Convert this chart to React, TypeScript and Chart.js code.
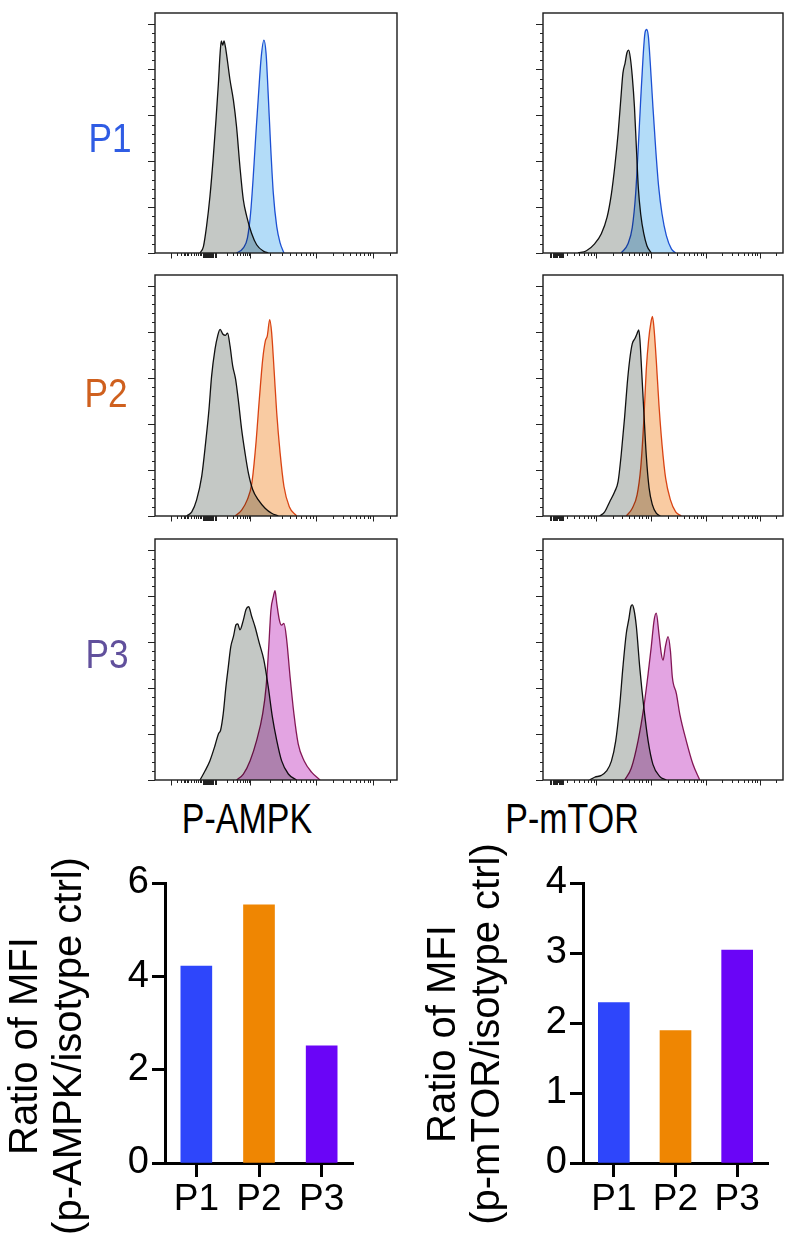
import React, { useEffect, useRef } from 'react';
import { Chart, registerables } from 'chart.js';

Chart.register(...registerables);

const FONT = "'Liberation Sans', Arial, Helvetica, sans-serif";

// ---------- Flow histograms: [display channel (0-1000), scaled count (major tick = 100)] ----------
const ampkP1Iso = [[186,0],[200,14],[213,58],[227,123],[241,210],[252,290],[262,370],[269,435],[274,462],[280,453],[285,462],[291,449],[299,420],[310,377],[324,333],[337,275],[351,188],[365,116],[379,80],[399,43],[420,18],[448,4],[468,0]];
const ampkP1Stain = [[337,0],[365,11],[382,33],[395,87],[406,167],[417,261],[428,348],[439,428],[450,464],[459,435],[467,355],[478,232],[489,130],[503,58],[517,22],[533,0]];

const mtorP1Iso = [[146,0],[181,5],[215,20],[243,42],[267,78],[285,129],[299,188],[313,261],[324,334],[333,392],[342,414],[350,437],[357,442],[364,425],[372,385],[381,319],[389,231],[397,144],[407,85],[420,42],[433,16],[451,0]];
const mtorP1Stain = [[326,0],[354,20],[372,56],[386,129],[397,231],[407,334],[417,428],[425,480],[432,487],[439,472],[447,414],[458,319],[470,224],[482,144],[496,85],[514,38],[535,9],[553,0]];

const ampkP2Iso = [[131,0],[152,9],[172,35],[193,86],[209,158],[223,231],[234,304],[248,362],[259,391],[269,405],[280,395],[291,392],[300,397],[310,369],[321,326],[333,297],[344,253],[358,188],[372,137],[386,93],[404,57],[427,35],[455,17],[482,6],[510,0]];
const ampkP2Stain = [[331,0],[358,13],[381,35],[400,71],[416,151],[431,253],[445,340],[456,380],[464,391],[474,426],[482,398],[492,318],[503,224],[517,137],[533,64],[555,20],[585,0]];

const mtorP2Iso = [[236,0],[257,9],[278,31],[299,53],[313,75],[326,134],[340,214],[351,287],[361,338],[372,374],[383,385],[392,396],[399,404],[404,382],[411,316],[420,228],[430,134],[442,61],[456,24],[472,6],[489,0]];
const mtorP2Stain = [[347,0],[372,17],[392,46],[407,104],[420,207],[430,316],[440,382],[449,418],[456,433],[462,411],[472,338],[483,243],[496,155],[511,82],[531,35],[553,9],[576,0]];

const ampkP3Iso = [[186,0],[207,20],[227,42],[248,75],[262,100],[271,108],[282,144],[293,202],[303,246],[313,289],[324,311],[335,337],[342,339],[351,326],[365,347],[376,370],[387,376],[399,356],[413,333],[431,297],[450,260],[468,202],[485,137],[503,86],[523,42],[551,13],[585,0]];
const ampkP3Stain = [[337,0],[365,13],[393,42],[420,86],[445,144],[459,202],[470,289],[479,369],[489,398],[496,411],[503,384],[514,347],[523,336],[533,340],[544,305],[558,225],[574,144],[592,78],[616,42],[647,17],[682,0]];

const mtorP3Iso = [[194,0],[215,6],[243,10],[264,19],[285,41],[303,85],[319,158],[333,245],[347,318],[358,350],[366,376],[372,380],[379,370],[389,333],[403,245],[420,158],[438,85],[458,34],[486,8],[514,0]];
const mtorP3Stain = [[340,0],[368,26],[396,85],[420,158],[438,231],[451,289],[463,347],[472,362],[483,318],[493,274],[500,260],[510,290],[521,311],[531,280],[539,223],[556,187],[570,143],[597,85],[625,34],[653,0]];

// ---------- Histogram axes (display channels) ----------
const leftMajor = [66, 393, 665, 901];
const leftDecades = [254, 393, 665, 901];
const leftMinor = [91, 107, 118, 126, 132, 137, 150, 160, 170, 178, 185, 191];
const leftDense = [198, 203, 207, 211, 215, 219, 223, 227, 231, 236, 241, 246, 251];
const rightMajor = [221, 450, 679, 904];
const rightDecades = [-8, 221, 450, 679, 904];
const rightMinor: number[] = [];
const rightDense = [30, 35, 40, 45, 50, 55, 60, 65, 70, 75, 80, 85];
const yMax = 523;
const yMajorStep = 100;
const yMinorStep = 20;

// ---------- Bar charts ----------
const samples = ['P1', 'P2', 'P3'];
const ampkRatio = [4.22, 5.53, 2.51];
const mtorRatio = [2.29, 1.89, 3.04];
const ampkAxis = { max: 6, step: 2 };
const mtorAxis = { max: 4, step: 1 };
const barColors = ['#2e46fb', '#ef8602', '#6a05f7'];

const GRAY_FILL = '#c4c8c5';
const STAIN = {
  P1: { fill: '#b3dcf8', line: '#2055d6', text: '#2f5ce4' },
  P2: { fill: '#f9cba2', line: '#dc4a16', text: '#cf601e' },
  P3: { fill: '#e3a4e2', line: '#8a1a5a', text: '#61509c' },
};

function withDecadeMinors(decades: number[]) {
  const out: number[] = [];
  for (let i = 0; i < decades.length; i++) {
    const a = decades[i];
    const b = i < decades.length - 1 ? decades[i + 1] : a + (a - decades[i - 1]);
    for (let k = 2; k <= 9; k++) {
      const v = a + (b - a) * Math.log10(k);
      if (v > 0 && v < 1000) out.push(v);
    }
  }
  return out;
}

const multiplyPlugin = {
  id: 'multiplyBlend',
  beforeDatasetsDraw(chart: any) {
    chart.ctx.save();
    chart.ctx.globalCompositeOperation = 'multiply';
  },
  afterDatasetsDraw(chart: any) {
    chart.ctx.restore();
  },
};

const framePlugin = {
  id: 'flowFrame',
  afterDraw(chart: any, _args: any, opts: any) {
    const { ctx, chartArea: a, scales } = chart;
    const x = scales.x, y = scales.y;
    ctx.save();
    ctx.strokeStyle = '#1a1a1a';
    ctx.lineWidth = 1.4;
    ctx.strokeRect(a.left, a.top, a.right - a.left, a.bottom - a.top);
    ctx.lineWidth = 1;
    ctx.strokeStyle = '#222';
    const seg = (x1: number, y1: number, x2: number, y2: number) => {
      ctx.beginPath(); ctx.moveTo(x1, y1); ctx.lineTo(x2, y2); ctx.stroke();
    };
    for (let i = 0; i * yMinorStep <= 500; i++) {
      const v = i * yMinorStep;
      const py = Math.round(y.getPixelForValue(v)) + 0.5;
      const len = v % yMajorStep === 0 ? 7 : 3;
      seg(a.left - len, py, a.left, py);
    }
    const drawX = (vals: number[], len: number) => vals.forEach((v) => {
      const px = Math.round(x.getPixelForValue(v)) + 0.5;
      seg(px, a.bottom, px, a.bottom + len);
    });
    drawX(opts.minor, 3);
    drawX(opts.dense, 5);
    drawX(opts.major, 5.5);
    ctx.restore();
  },
};

const PADL = 10, PADT = 3, PADR = 3, PADB = 8;

function Histogram(props: any) {
  const { left, top, width, height, iso, stain, color, axis } = props;
  const ref = useRef<HTMLCanvasElement>(null);
  useEffect(() => {
    const toPts = (arr: number[][]) => arr.map(([x, y]) => ({ x, y }));
    const chart = new Chart(ref.current as HTMLCanvasElement, {
      type: 'line',
      data: {
        datasets: [
          {
            data: toPts(stain),
            borderColor: color.line,
            backgroundColor: color.fill,
            fill: 'origin',
            borderWidth: 1.3,
            pointRadius: 0,
            cubicInterpolationMode: 'monotone',
            order: 0,
          },
          {
            data: toPts(iso),
            borderColor: '#111',
            backgroundColor: GRAY_FILL,
            fill: 'origin',
            borderWidth: 1.3,
            pointRadius: 0,
            cubicInterpolationMode: 'monotone',
            order: 1,
          },
        ],
      },
      options: {
        animation: false,
        responsive: false,
        maintainAspectRatio: false,
        events: [],
        layout: { padding: { left: PADL, top: PADT, right: PADR, bottom: PADB } },
        scales: {
          x: { type: 'linear', min: 0, max: 1000, display: false },
          y: { min: 0, max: yMax, display: false },
        },
        plugins: {
          legend: { display: false },
          tooltip: { enabled: false },
          flowFrame: axis,
        } as any,
      },
      plugins: [multiplyPlugin, framePlugin],
    });
    return () => chart.destroy();
  }, []);
  const w = width + PADL + PADR, h = height + PADT + PADB;
  return (
    <canvas
      ref={ref}
      width={w}
      height={h}
      style={{ position: 'absolute', left: left - PADL, top: top - PADT, width: w, height: h }}
    />
  );
}

function BarPanel(props: any) {
  const { left, top, width, height, area, values, axisCfg } = props;
  const ref = useRef<HTMLCanvasElement>(null);
  useEffect(() => {
    const chart = new Chart(ref.current as HTMLCanvasElement, {
      type: 'bar',
      data: {
        labels: samples,
        datasets: [{ data: values, backgroundColor: barColors, barThickness: 31 }],
      },
      options: {
        animation: false,
        responsive: false,
        maintainAspectRatio: false,
        events: [],
        layout: { padding: { top: area.top, right: width - area.right, left: 0, bottom: 0 } },
        scales: {
          x: {
            grid: { display: true, drawOnChartArea: false, offset: false, tickLength: 14, tickWidth: 3, tickColor: '#000' },
            border: { color: '#000', width: 3 },
            ticks: { color: '#000', font: { size: 37, family: FONT }, padding: 1, maxRotation: 0, autoSkip: false },
            afterFit: (s: any) => { s.height = height - area.bottom; },
          },
          y: {
            min: 0,
            max: axisCfg.max,
            ticks: { stepSize: axisCfg.step, color: '#000', font: { size: 38, family: FONT }, padding: 3 },
            grid: { drawOnChartArea: false, tickLength: 13, tickWidth: 3, tickColor: '#000' },
            border: { color: '#000', width: 3 },
            afterFit: (s: any) => { s.width = area.left; },
          },
        },
        plugins: { legend: { display: false }, tooltip: { enabled: false } },
      },
    });
    return () => chart.destroy();
  }, []);
  return (
    <canvas
      ref={ref}
      width={width}
      height={height}
      style={{ position: 'absolute', left, top, width, height }}
    />
  );
}

function Label(props: any) {
  const { text, cx, baseline, size, sx, color } = props;
  return (
    <div
      style={{
        position: 'absolute',
        left: cx - 200,
        width: 400,
        top: baseline - 0.8465 * size,
        height: size,
        lineHeight: `${size}px`,
        fontSize: size,
        fontFamily: FONT,
        color,
        textAlign: 'center',
        whiteSpace: 'nowrap',
        transform: `scaleX(${sx})`,
      }}
    >
      {text}
    </div>
  );
}

function VTitle(props: any) {
  const { lines, cx, cy, size, lh } = props;
  const W = 460, H = lh * lines.length;
  return (
    <div
      style={{
        position: 'absolute',
        left: cx - W / 2,
        top: cy - H / 2,
        width: W,
        height: H,
        transform: 'rotate(-90deg)',
        textAlign: 'center',
        fontSize: size,
        lineHeight: `${lh}px`,
        fontFamily: FONT,
        color: '#000',
        whiteSpace: 'nowrap',
      }}
    >
      {lines.map((l: string) => <div key={l}>{l}</div>)}
    </div>
  );
}

const leftAxis = { major: leftMajor, minor: [...leftMinor, ...withDecadeMinors(leftDecades)], dense: leftDense };
const rightAxis = { major: rightMajor, minor: [...rightMinor, ...withDecadeMinors(rightDecades)], dense: rightDense };

const panels = [
  { key: 'a1', left: 155, top: 13, width: 242, height: 240, iso: ampkP1Iso, stain: ampkP1Stain, color: STAIN.P1, axis: leftAxis },
  { key: 'm1', left: 543, top: 13, width: 240, height: 240, iso: mtorP1Iso, stain: mtorP1Stain, color: STAIN.P1, axis: rightAxis },
  { key: 'a2', left: 155, top: 275, width: 242, height: 241, iso: ampkP2Iso, stain: ampkP2Stain, color: STAIN.P2, axis: leftAxis },
  { key: 'm2', left: 543, top: 275, width: 240, height: 241, iso: mtorP2Iso, stain: mtorP2Stain, color: STAIN.P2, axis: rightAxis },
  { key: 'a3', left: 155, top: 539, width: 242, height: 241, iso: ampkP3Iso, stain: ampkP3Stain, color: STAIN.P3, axis: leftAxis },
  { key: 'm3', left: 543, top: 539, width: 240, height: 241, iso: mtorP3Iso, stain: mtorP3Stain, color: STAIN.P3, axis: rightAxis },
];

export default function App() {
  return (
    <div style={{ position: 'absolute', left: 0, top: 0, width: 796, height: 1244, background: '#fff', overflow: 'hidden' }}>
      {panels.map((p) => <Histogram {...p} />)}
      <Label text="P1" cx={110} baseline={152} size={40} sx={0.88} color={STAIN.P1.text} />
      <Label text="P2" cx={106} baseline={407} size={40} sx={0.88} color={STAIN.P2.text} />
      <Label text="P3" cx={107} baseline={668} size={40} sx={0.88} color={STAIN.P3.text} />
      <Label text="P-AMPK" cx={247} baseline={833} size={43} sx={0.79} color="#000" />
      <Label text="P-mTOR" cx={572} baseline={833} size={43} sx={0.79} color="#000" />
      <BarPanel left={0} top={840} width={380} height={404} area={{ left: 165, right: 353, top: 43, bottom: 323 }} values={ampkRatio} axisCfg={ampkAxis} />
      <BarPanel left={400} top={840} width={396} height={404} area={{ left: 183, right: 368, top: 43, bottom: 323 }} values={mtorRatio} axisCfg={mtorAxis} />
      <VTitle lines={['Ratio of MFI', '(p-AMPK/isotype ctrl)']} cx={45} cy={1046} size={40} lh={44} />
      <VTitle lines={['Ratio of MFI', '(p-mTOR/isotype ctrl)']} cx={463} cy={1034} size={40} lh={44} />
    </div>
  );
}
